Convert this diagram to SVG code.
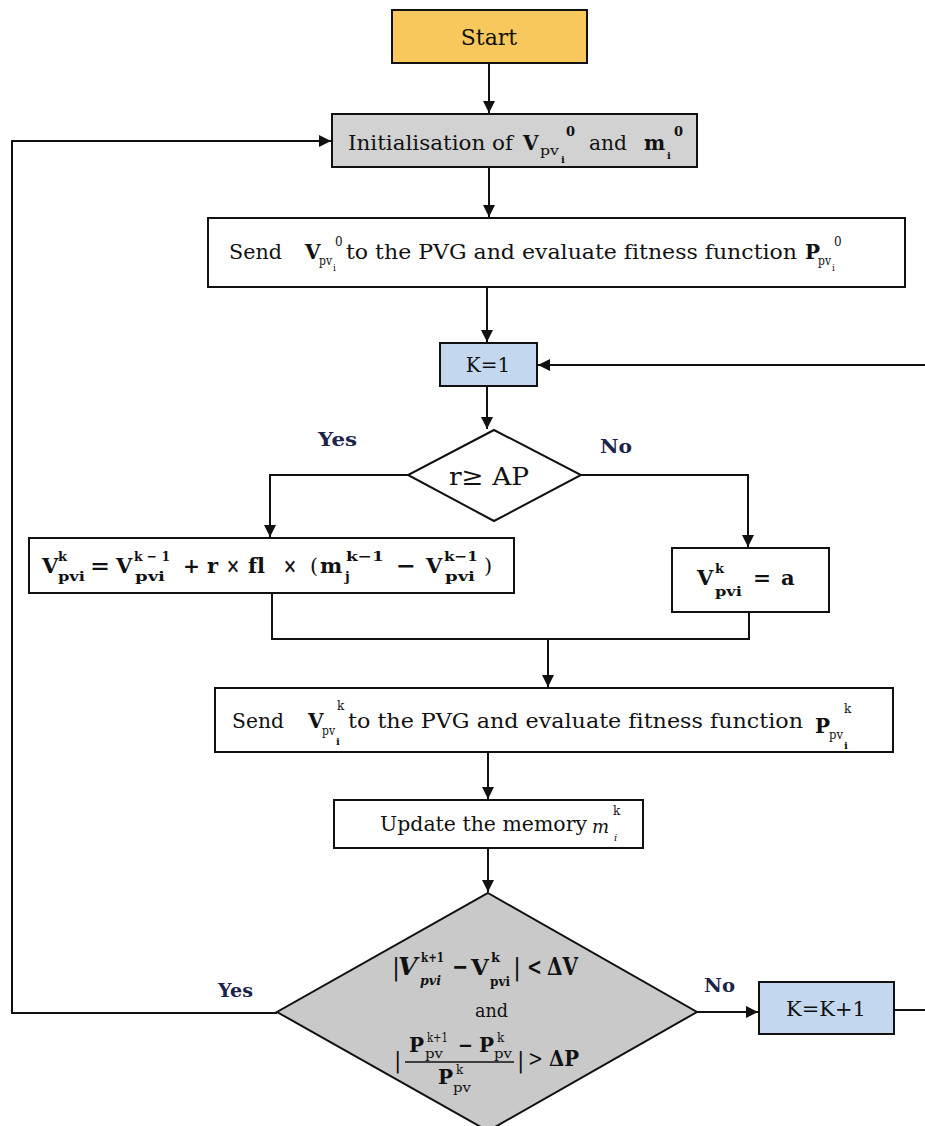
<svg xmlns="http://www.w3.org/2000/svg" width="925" height="1126" viewBox="0 0 925 1126">
<defs>
<style>
text{font-family:"DejaVu Serif","Liberation Serif",serif;fill:#111;font-variant-ligatures:none}
.b{font-weight:bold}
.i{font-style:italic}
.lbl{font-weight:bold;font-size:19px;fill:#1c2547}
.box{stroke:#111;stroke-width:2}
.c{fill:none;stroke:#111;stroke-width:2}
.s{font-size:13px}
.m{font-size:21px;font-weight:bold}
</style>
<marker id="ah" viewBox="0 0 10 10" refX="10" refY="5" markerWidth="12" markerHeight="12" markerUnits="userSpaceOnUse" orient="auto"><path d="M0,0 L10,5 L0,10 z" fill="#111"/></marker>
</defs>
<rect width="925" height="1126" fill="#fff"/>

<g id="connectors">
<path class="c" d="M489,63 V113" marker-end="url(#ah)"/>
<path class="c" d="M277,1013 H12 V141 H331" marker-end="url(#ah)"/>
<path class="c" d="M489,167 V217" marker-end="url(#ah)"/>
<path class="c" d="M487,287 V342" marker-end="url(#ah)"/>
<path class="c" d="M925,365 H538" marker-end="url(#ah)"/>
<path class="c" d="M487,386 V429" marker-end="url(#ah)"/>
<path class="c" d="M408,475 H270 V537" marker-end="url(#ah)"/>
<path class="c" d="M581,475 H748 V547" marker-end="url(#ah)"/>
<path class="c" d="M272,593 V639 H749 V612"/>
<path class="c" d="M548,639 V687" marker-end="url(#ah)"/>
<path class="c" d="M488,752 V799" marker-end="url(#ah)"/>
<path class="c" d="M488,848 V892" marker-end="url(#ah)"/>
<path class="c" d="M697,1012 H758" marker-end="url(#ah)"/>
<path class="c" d="M894,1010 H925"/>
<text class="lbl" x="318" y="446" textLength="39" lengthAdjust="spacingAndGlyphs">Yes</text>
<text class="lbl" x="600" y="453" textLength="32" lengthAdjust="spacingAndGlyphs">No</text>
<text class="lbl" x="218" y="997" textLength="35" lengthAdjust="spacingAndGlyphs">Yes</text>
<text class="lbl" x="704" y="992" textLength="31" lengthAdjust="spacingAndGlyphs">No</text>
</g>

<g id="start">
<rect class="box" x="392" y="10" width="195" height="53" fill="#f8c85c"/>
<text x="489" y="45" font-size="22" text-anchor="middle">Start</text>
</g>

<g id="init">
<rect class="box" x="332" y="114" width="365" height="53" fill="#d2d2d2"/>
<text x="348" y="150" font-size="20" textLength="165" lengthAdjust="spacingAndGlyphs">Initialisation of</text>
<text class="b" x="523" y="150" font-size="20">V</text>
<text class="s" x="540" y="155" textLength="19" lengthAdjust="spacingAndGlyphs">pv</text>
<text class="b" x="561" y="163" font-size="10">i</text>
<text class="b s" x="566" y="136">0</text>
<text x="589" y="150" font-size="20" textLength="38" lengthAdjust="spacingAndGlyphs">and</text>
<text class="b" x="644" y="150" font-size="20">m</text>
<text class="b" x="667" y="159" font-size="10">i</text>
<text class="b s" x="674" y="136">0</text>
</g>

<g id="send1">
<rect class="box" x="208" y="218" width="697" height="69" fill="#fff"/>
<text x="229" y="259" font-size="20" textLength="53" lengthAdjust="spacingAndGlyphs">Send</text>
<text class="b" x="305" y="259" font-size="20">V</text>
<text x="319" y="265" font-size="12" textLength="13" lengthAdjust="spacingAndGlyphs">pv</text>
<text x="333" y="271" font-size="9">i</text>
<text x="335" y="246" font-size="12">0</text>
<text x="346" y="259" font-size="20" textLength="451" lengthAdjust="spacingAndGlyphs">to the PVG and evaluate fitness function</text>
<text class="b" x="805" y="259" font-size="20">P</text>
<text x="818" y="265" font-size="12" textLength="13" lengthAdjust="spacingAndGlyphs">pv</text>
<text x="832" y="271" font-size="9">i</text>
<text x="834" y="246" font-size="12">0</text>
</g>

<g id="k1">
<rect class="box" x="440" y="343" width="97" height="43" fill="#c3d8ef"/>
<text x="488" y="372" font-size="20" text-anchor="middle">K=1</text>
</g>

<g id="decision1">
<polygon class="box" points="494,430 581,475 494,521 408,475" fill="#fff"/>
<text x="449" y="485" font-size="25" textLength="80" lengthAdjust="spacingAndGlyphs">r≥ AP</text>
</g>

<g id="update-formula">
<rect class="box" x="29" y="538" width="485" height="55" fill="#fff"/>
<text class="m" x="42" y="573">V</text>
<text class="b s" x="58" y="561">k</text>
<text class="b s" x="58" y="581" textLength="27" lengthAdjust="spacingAndGlyphs">pvi</text>
<text class="m" x="90" y="573" textLength="20" lengthAdjust="spacingAndGlyphs">=</text>
<text class="m" x="116" y="573">V</text>
<text class="b s" x="134" y="561" textLength="36" lengthAdjust="spacingAndGlyphs">k − 1</text>
<text class="b s" x="135" y="581" textLength="30" lengthAdjust="spacingAndGlyphs">pvi</text>
<text class="m" x="183" y="573" textLength="17" lengthAdjust="spacingAndGlyphs">+</text>
<text class="m" x="207" y="573">r</text>
<text class="m" x="226" y="573" textLength="14" lengthAdjust="spacingAndGlyphs">×</text>
<text class="m" x="248" y="573" font-size="23">fl</text>
<text class="m" x="283" y="573" textLength="14" lengthAdjust="spacingAndGlyphs">×</text>
<text x="310" y="573" font-size="21">(</text>
<text class="m" x="320" y="573">m</text>
<text class="b s" x="346" y="561" textLength="38" lengthAdjust="spacingAndGlyphs">k−1</text>
<text class="b s" x="345" y="581">j</text>
<text class="m" x="396" y="573" textLength="20" lengthAdjust="spacingAndGlyphs">−</text>
<text class="m" x="426" y="573">V</text>
<text class="b s" x="444" y="561" textLength="34" lengthAdjust="spacingAndGlyphs">k−1</text>
<text class="b s" x="445" y="581" textLength="30" lengthAdjust="spacingAndGlyphs">pvi</text>
<text x="484" y="573" font-size="21">)</text>
</g>

<g id="random-formula">
<rect class="box" x="672" y="548" width="157" height="64" fill="#fff"/>
<text class="m" x="697" y="585">V</text>
<text class="b s" x="715" y="573">k</text>
<text class="b s" x="715" y="596" textLength="27" lengthAdjust="spacingAndGlyphs">pvi</text>
<text class="m" x="753" y="585" textLength="18" lengthAdjust="spacingAndGlyphs">=</text>
<text class="m" x="781" y="585">a</text>
</g>

<g id="send2">
<rect class="box" x="215" y="688" width="678" height="64" fill="#fff"/>
<text x="232" y="728" font-size="20" textLength="52" lengthAdjust="spacingAndGlyphs">Send</text>
<text class="b" x="308" y="728" font-size="20">V</text>
<text x="322" y="735" font-size="12" textLength="13" lengthAdjust="spacingAndGlyphs">pv</text>
<text class="b" x="336" y="745" font-size="10">i</text>
<text x="337" y="710" font-size="12">k</text>
<text x="348" y="728" font-size="20" textLength="455" lengthAdjust="spacingAndGlyphs">to the PVG and evaluate fitness function</text>
<text class="b" x="815" y="733" font-size="20">P</text>
<text x="829" y="739" font-size="12" textLength="14" lengthAdjust="spacingAndGlyphs">pv</text>
<text class="b" x="844" y="749" font-size="10">i</text>
<text x="844" y="713" font-size="12">k</text>
</g>

<g id="memory">
<rect class="box" x="334" y="800" width="309" height="48" fill="#fff"/>
<text x="380" y="831" font-size="20" textLength="207" lengthAdjust="spacingAndGlyphs">Update the memory</text>
<text class="i" x="592" y="833" font-size="18">m</text>
<text x="613" y="815" font-size="12">k</text>
<text class="i" x="614" y="841" font-size="10">i</text>
</g>

<g id="decision2">
<polygon class="box" points="488,893 697,1012 488,1131 277,1012" fill="#c9c9c9"/>
<text x="392" y="975" font-size="24">|</text>
<text class="b i" x="398" y="975" font-size="25">V</text>
<text class="b" x="421" y="962" font-size="13" textLength="23" lengthAdjust="spacingAndGlyphs">k+1</text>
<text class="b i" x="420" y="985" font-size="13" textLength="21" lengthAdjust="spacingAndGlyphs">pvi</text>
<text class="b" x="452" y="975" font-size="24" textLength="16" lengthAdjust="spacingAndGlyphs">−</text>
<text class="b" x="471" y="975" font-size="23">V</text>
<text class="b" x="491" y="962" font-size="13">k</text>
<text class="b" x="490" y="986" font-size="13" textLength="20" lengthAdjust="spacingAndGlyphs">pvi</text>
<text x="513" y="975" font-size="24">|</text>
<text class="b" x="527" y="975" font-size="24" textLength="15" lengthAdjust="spacingAndGlyphs">&lt;</text>
<text class="b" x="547" y="975" font-size="24" textLength="31" lengthAdjust="spacingAndGlyphs">ΔV</text>
<text x="475" y="1017" font-size="18" textLength="33" lengthAdjust="spacingAndGlyphs">and</text>
<text x="394" y="1068" font-size="22">|</text>
<text class="b" x="409" y="1052" font-size="20">P</text>
<text x="427" y="1042" font-size="12" textLength="21" lengthAdjust="spacingAndGlyphs">k+1</text>
<text x="425" y="1058" font-size="12" textLength="18" lengthAdjust="spacingAndGlyphs">pv</text>
<text class="b" x="458" y="1052" font-size="20" textLength="15" lengthAdjust="spacingAndGlyphs">−</text>
<text class="b" x="479" y="1052" font-size="20">P</text>
<text x="497" y="1042" font-size="12">k</text>
<text x="494" y="1058" font-size="12" textLength="18" lengthAdjust="spacingAndGlyphs">pv</text>
<line x1="405" y1="1062" x2="514" y2="1062" stroke="#111" stroke-width="1.5"/>
<text class="b" x="438" y="1084" font-size="20">P</text>
<text x="456" y="1074" font-size="12">k</text>
<text x="453" y="1092" font-size="12" textLength="18" lengthAdjust="spacingAndGlyphs">pv</text>
<text x="517" y="1068" font-size="22">|</text>
<text x="528" y="1066" font-size="22" textLength="15" lengthAdjust="spacingAndGlyphs">&gt;</text>
<text class="b" x="549" y="1066" font-size="22" textLength="30" lengthAdjust="spacingAndGlyphs">ΔP</text>
</g>

<g id="kinc">
<rect class="box" x="759" y="982" width="135" height="52" fill="#c3d8ef"/>
<text x="826" y="1016" font-size="21" text-anchor="middle">K=K+1</text>
</g>
</svg>
